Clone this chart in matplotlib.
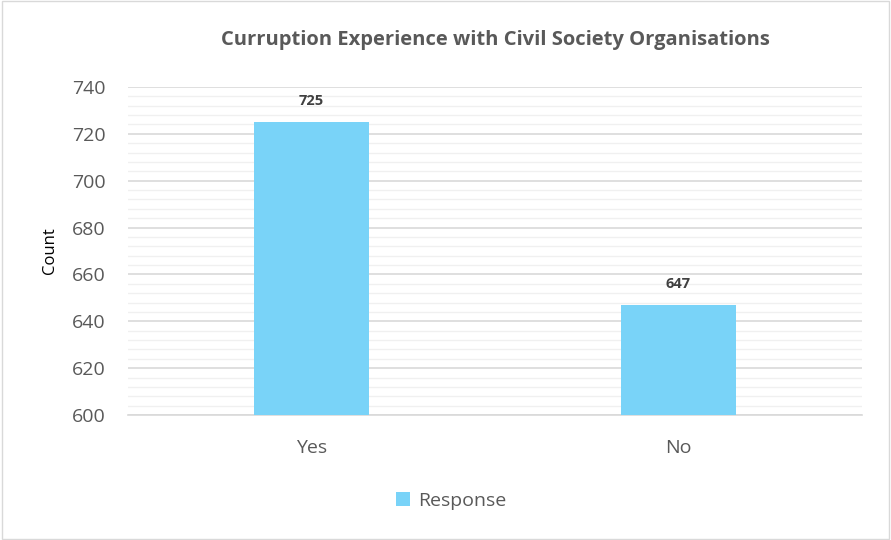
import matplotlib
matplotlib.use("Agg")
import matplotlib.pyplot as plt
from matplotlib.ticker import MultipleLocator
from matplotlib.patches import Rectangle

categories = ["Yes", "No"]
counts = [725, 647]
series_name = "Response"
title = "Curruption Experience with Civil Society Organisations"

plt.rcParams['font.family'] = ['Open Sans', 'DejaVu Sans']

fig = plt.figure(figsize=(8.91, 5.40), dpi=100)
ax = fig.add_axes([0.1437, 0.2315, 0.8238, 0.6074])

bar_color = "#79D3F8"
x = range(len(categories))
bars = ax.bar(x, counts, width=0.313, color=bar_color, label=series_name, zorder=3)

for b, v in zip(bars, counts):
    ax.annotate(str(v), (b.get_x() + b.get_width() / 2, v), xytext=(0, 10),
                textcoords="offset points", ha="center", va="bottom",
                fontsize=10.5, fontweight="bold", color="#404040")

ax.set_xlim(-0.5, 1.5)
ax.set_ylim(600, 740)
ax.yaxis.set_major_locator(MultipleLocator(20))
ax.yaxis.set_minor_locator(MultipleLocator(4))
ax.set_xticks(list(x))
ax.set_xticklabels(categories)

ax.grid(axis="y", which="major", color="#D9D9D9", linewidth=1.2, zorder=0)
ax.grid(axis="y", which="minor", color="#F0F0F0", linewidth=1.0, zorder=0)
for s in ["top", "right", "left"]:
    ax.spines[s].set_visible(False)
ax.spines["bottom"].set_color("#D9D9D9")
ax.spines["bottom"].set_linewidth(1.2)
ax.tick_params(axis="both", which="both", length=0, labelsize=14, colors="#595959")
ax.tick_params(axis="y", pad=16)
ax.tick_params(axis="x", pad=17)

ax.set_ylabel("Count", fontsize=12, color="black", labelpad=10)
fig.text(0.556, 0.926, title, ha="center", va="center", fontsize=14.5,
         fontweight="bold", color="#595959")

leg = fig.legend(handles=[bars], labels=[series_name], loc="center",
                 bbox_to_anchor=(0.506, 0.072), frameon=False, fontsize=14,
                 handlelength=0.75, handleheight=0.75, handletextpad=0.4)
for t in leg.get_texts():
    t.set_color("#595959")

fig.patches.append(Rectangle((0.002, 0.002), 0.996, 0.996, transform=fig.transFigure,
                             fill=False, edgecolor="#D9D9D9", linewidth=1))

fig.savefig("out.png", dpi=100)
